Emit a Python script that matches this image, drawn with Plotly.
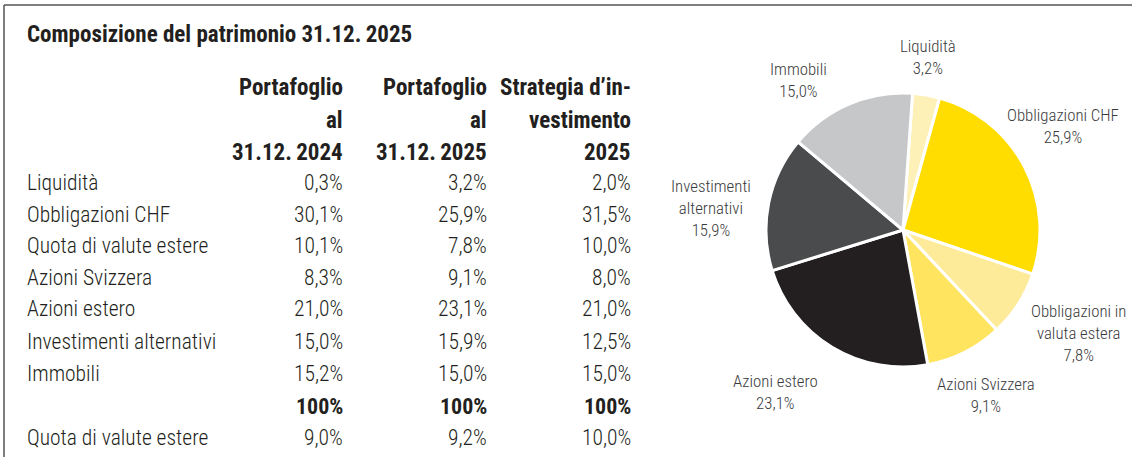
import plotly.graph_objects as go

W, H = 1132, 457

# ---- data ----
title = "Composizione del patrimonio 31.12.\u20092025"
col_headers = [
    ["Portafoglio", "al", "31.12.\u20092024"],
    ["Portafoglio", "al", "31.12.\u20092025"],
    ["Strategia d’in-", "vestimento", "2025"],
]
row_labels = ["Liquidità", "Obbligazioni CHF", "Quota di valute estere", "Azioni Svizzera",
              "Azioni estero", "Investimenti alternativi", "Immobili", "", "Quota di valute estere"]
col_2024 = ["0,3%", "30,1%", "10,1%", "8,3%", "21,0%", "15,0%", "15,2%", "100%", "9,0%"]
col_2025 = ["3,2%", "25,9%", "7,8%", "9,1%", "23,1%", "15,9%", "15,0%", "100%", "9,2%"]
col_strat = ["2,0%", "31,5%", "10,0%", "8,0%", "21,0%", "12,5%", "15,0%", "100%", "10,0%"]
bold_rows = [7]

pie_labels = ["Liquidità", "Obbligazioni CHF", "Obbligazioni in valuta estera", "Azioni Svizzera",
              "Azioni estero", "Investimenti alternativi", "Immobili"]
pie_values = [3.2, 25.9, 7.8, 9.1, 23.1, 15.9, 15.0]
pie_text = ["Liquidità<br>3,2%", "Obbligazioni CHF<br>25,9%", "Obbligazioni in<br>valuta estera<br>7,8%",
            "Azioni Svizzera<br>9,1%", "Azioni estero<br>23,1%", "Investimenti<br>alternativi<br>15,9%",
            "Immobili<br>15,0%"]
pie_colors = ["#FDF1B8", "#FFDD00", "#FEEB9A", "#FFE45F", "#231F20", "#4A4B4D", "#C6C7C9"]

# ---- layout positions (pixels) ----
FONT = "Roboto Condensed, Noto Sans Condensed, Open Sans Condensed, DejaVu Sans Condensed, sans-serif"
TXT = "#231F20"
LBL = "#3A3A3C"
label_x = 25
col_right = [345, 489, 633]
header_y = [88, 120, 152]
row_y = [183, 214, 245, 277, 308, 341, 373, 406, 437]
pie_cx, pie_cy, pie_r = 903, 230, 137
pie_label_pos = [(928, 57), (1063, 126), (1078, 333), (986, 395), (775, 392), (711, 208), (798, 80)]


def px(x):
    return x / W


def py(y):
    return 1 - y / H


fig = go.Figure()
fig.add_trace(go.Pie(
    labels=pie_labels, values=pie_values, sort=False, direction="clockwise", rotation=4,
    marker=dict(colors=pie_colors, line=dict(color="white", width=3)),
    textinfo="none", hoverinfo="label+percent", showlegend=False,
    domain=dict(x=[px(pie_cx - pie_r), px(pie_cx + pie_r)], y=[py(pie_cy + pie_r), py(pie_cy - pie_r)]),
))

ann = []
ann.append(dict(x=px(label_x), y=py(35), text="<b>" + title + "</b>", xanchor="left", yanchor="middle",
                font=dict(size=23, color=TXT, family=FONT)))
for ci, hdr in enumerate(col_headers):
    for hi, t in enumerate(hdr):
        ann.append(dict(x=px(col_right[ci]), y=py(header_y[hi]), text="<b>" + t + "</b>", xanchor="right",
                        yanchor="middle", font=dict(size=23, color=TXT, family=FONT)))
for ri, lab in enumerate(row_labels):
    if lab:
        ann.append(dict(x=px(label_x), y=py(row_y[ri]), text=lab, xanchor="left", yanchor="middle",
                        font=dict(size=21.5, color=TXT, family=FONT, weight=300)))
    for ci, col in enumerate([col_2024, col_2025, col_strat]):
        t = col[ri]
        if ri in bold_rows:
            f = dict(size=22, color=TXT, family=FONT, weight=700)
        else:
            f = dict(size=21.5, color=TXT, family=FONT, weight=300)
        ann.append(dict(x=px(col_right[ci]), y=py(row_y[ri]), text=t, xanchor="right", yanchor="middle",
                        font=f))
for (lx, ly), t in zip(pie_label_pos, pie_text):
    ann.append(dict(x=px(lx), y=py(ly), text=t, xanchor="center", yanchor="middle", align="center",
                    font=dict(size=16.8, color=LBL, family=FONT, weight=300)))
for a in ann:
    a.update(xref="paper", yref="paper", showarrow=False)

shapes = [
    dict(type="line", xref="paper", yref="paper", x0=px(4), x1=1, y0=py(5), y1=py(5),
         line=dict(color="#555555", width=1.5)),
    dict(type="line", xref="paper", yref="paper", x0=px(4), x1=px(4), y0=py(5), y1=0,
         line=dict(color="#555555", width=1.5)),
]

fig.update_layout(width=W, height=H, margin=dict(l=0, r=0, t=0, b=0), paper_bgcolor="white",
                  plot_bgcolor="white", annotations=ann, shapes=shapes, font=dict(family=FONT))
fig.write_html("out.html", config={"displayModeBar": False},
               post_script="document.body.style.margin='0';document.body.style.overflow='hidden';")
